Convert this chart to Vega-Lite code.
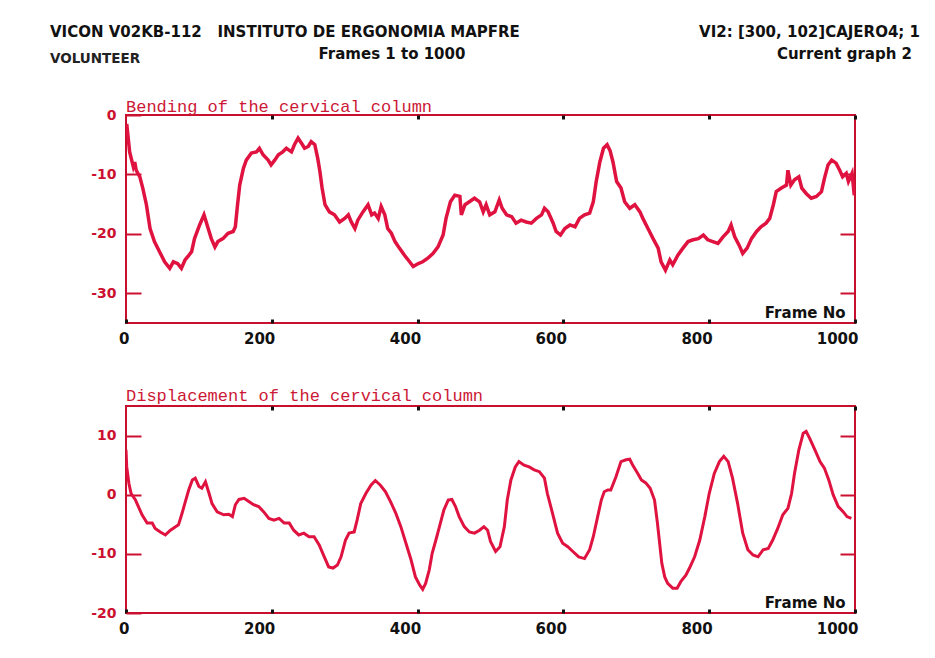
{
  "$schema": "https://vega.github.io/schema/vega-lite/v6.json",
  "background": "white",
  "padding": {"left": 50, "top": 0, "right": 0, "bottom": 0},
  "columns": 1,
  "spacing": 31,
  "config": {
    "view": {"stroke": "#c8102e", "strokeWidth": 2},
    "axis": {"grid": false, "domain": false, "title": null},
    "font": "DejaVu Sans"
  },
  "datasets": {
    "bending": [
      {"frame":1,"value":-1.5},{"frame":5,"value":-6.2},{"frame":10,"value":-8.7},{"frame":12,"value":-7.9},{"frame":14,"value":-9.3},{"frame":19,"value":-10.4},{"frame":23,"value":-12.3},{"frame":28,"value":-15.1},{"frame":33,"value":-19.1},{"frame":39,"value":-21.3},{"frame":46,"value":-23.0},{"frame":53,"value":-24.7},{"frame":60,"value":-25.8},{"frame":65,"value":-24.7},{"frame":71,"value":-25.0},{"frame":76,"value":-25.8},{"frame":81,"value":-24.4},{"frame":85,"value":-23.8},{"frame":90,"value":-23.0},{"frame":94,"value":-20.8},{"frame":101,"value":-18.5},{"frame":107,"value":-16.8},{"frame":112,"value":-18.8},{"frame":117,"value":-20.8},{"frame":122,"value":-22.2},{"frame":126,"value":-21.3},{"frame":133,"value":-20.8},{"frame":140,"value":-19.9},{"frame":147,"value":-19.6},{"frame":150,"value":-18.8},{"frame":153,"value":-15.1},{"frame":156,"value":-11.8},{"frame":161,"value":-9.0},{"frame":165,"value":-7.6},{"frame":172,"value":-6.4},{"frame":179,"value":-6.2},{"frame":183,"value":-5.6},{"frame":188,"value":-6.7},{"frame":195,"value":-7.6},{"frame":199,"value":-8.4},{"frame":204,"value":-7.6},{"frame":209,"value":-6.7},{"frame":215,"value":-6.2},{"frame":220,"value":-5.6},{"frame":227,"value":-6.2},{"frame":231,"value":-5.0},{"frame":236,"value":-3.9},{"frame":241,"value":-4.8},{"frame":245,"value":-5.6},{"frame":250,"value":-5.3},{"frame":254,"value":-4.5},{"frame":259,"value":-5.0},{"frame":263,"value":-7.3},{"frame":266,"value":-9.5},{"frame":269,"value":-12.3},{"frame":273,"value":-15.1},{"frame":279,"value":-16.3},{"frame":286,"value":-16.8},{"frame":293,"value":-18.0},{"frame":300,"value":-17.4},{"frame":305,"value":-16.8},{"frame":309,"value":-18.0},{"frame":314,"value":-19.1},{"frame":318,"value":-17.7},{"frame":325,"value":-16.3},{"frame":332,"value":-15.1},{"frame":337,"value":-16.8},{"frame":341,"value":-16.5},{"frame":346,"value":-17.4},{"frame":350,"value":-15.4},{"frame":355,"value":-16.8},{"frame":359,"value":-19.1},{"frame":364,"value":-19.9},{"frame":369,"value":-21.3},{"frame":375,"value":-22.4},{"frame":382,"value":-23.6},{"frame":389,"value":-24.7},{"frame":394,"value":-25.5},{"frame":401,"value":-25.0},{"frame":407,"value":-24.7},{"frame":414,"value":-24.1},{"frame":421,"value":-23.3},{"frame":428,"value":-22.2},{"frame":435,"value":-20.2},{"frame":439,"value":-17.4},{"frame":445,"value":-14.6},{"frame":451,"value":-13.5},{"frame":458,"value":-13.7},{"frame":460,"value":-16.8},{"frame":465,"value":-15.1},{"frame":471,"value":-14.6},{"frame":478,"value":-14.0},{"frame":485,"value":-14.6},{"frame":490,"value":-16.3},{"frame":494,"value":-15.1},{"frame":499,"value":-16.8},{"frame":506,"value":-16.3},{"frame":512,"value":-14.3},{"frame":516,"value":-15.7},{"frame":522,"value":-16.8},{"frame":529,"value":-17.1},{"frame":535,"value":-18.2},{"frame":542,"value":-17.7},{"frame":549,"value":-18.0},{"frame":556,"value":-18.2},{"frame":563,"value":-17.4},{"frame":570,"value":-16.8},{"frame":574,"value":-15.7},{"frame":579,"value":-16.3},{"frame":586,"value":-18.2},{"frame":590,"value":-19.6},{"frame":596,"value":-20.2},{"frame":602,"value":-19.1},{"frame":609,"value":-18.5},{"frame":616,"value":-18.8},{"frame":622,"value":-17.4},{"frame":629,"value":-16.8},{"frame":636,"value":-16.5},{"frame":641,"value":-14.6},{"frame":645,"value":-11.2},{"frame":650,"value":-7.9},{"frame":655,"value":-5.6},{"frame":660,"value":-5.0},{"frame":664,"value":-6.0},{"frame":668,"value":-7.9},{"frame":673,"value":-11.2},{"frame":679,"value":-12.3},{"frame":684,"value":-14.6},{"frame":691,"value":-15.7},{"frame":698,"value":-15.1},{"frame":705,"value":-16.3},{"frame":709,"value":-17.4},{"frame":716,"value":-19.1},{"frame":723,"value":-20.8},{"frame":730,"value":-22.4},{"frame":734,"value":-24.7},{"frame":740,"value":-26.1},{"frame":746,"value":-24.4},{"frame":750,"value":-25.2},{"frame":757,"value":-23.6},{"frame":764,"value":-22.4},{"frame":771,"value":-21.3},{"frame":778,"value":-21.0},{"frame":785,"value":-20.8},{"frame":792,"value":-20.2},{"frame":798,"value":-21.0},{"frame":805,"value":-21.3},{"frame":812,"value":-21.6},{"frame":819,"value":-20.5},{"frame":826,"value":-19.6},{"frame":830,"value":-18.5},{"frame":835,"value":-20.5},{"frame":841,"value":-21.9},{"frame":846,"value":-23.3},{"frame":852,"value":-22.4},{"frame":858,"value":-20.8},{"frame":865,"value":-19.6},{"frame":871,"value":-18.8},{"frame":878,"value":-18.2},{"frame":883,"value":-17.4},{"frame":888,"value":-15.1},{"frame":892,"value":-12.9},{"frame":899,"value":-12.3},{"frame":906,"value":-11.8},{"frame":908,"value":-9.3},{"frame":912,"value":-11.8},{"frame":917,"value":-10.9},{"frame":923,"value":-10.4},{"frame":927,"value":-12.3},{"frame":933,"value":-13.2},{"frame":940,"value":-14.0},{"frame":947,"value":-13.7},{"frame":954,"value":-12.9},{"frame":958,"value":-10.7},{"frame":963,"value":-8.4},{"frame":968,"value":-7.6},{"frame":974,"value":-8.1},{"frame":979,"value":-9.3},{"frame":983,"value":-10.4},{"frame":988,"value":-9.8},{"frame":991,"value":-11.2},{"frame":996,"value":-9.8},{"frame":999,"value":-13.5}
    ],
    "displacement": [
      {"frame":0,"value":7.6},{"frame":1,"value":4.7},{"frame":4,"value":1.9},{"frame":7,"value":0.2},{"frame":13,"value":-0.9},{"frame":17,"value":-2.0},{"frame":22,"value":-3.4},{"frame":29,"value":-4.8},{"frame":36,"value":-4.8},{"frame":40,"value":-5.7},{"frame":47,"value":-6.3},{"frame":54,"value":-6.8},{"frame":61,"value":-6.0},{"frame":68,"value":-5.4},{"frame":72,"value":-5.1},{"frame":77,"value":-3.1},{"frame":82,"value":-0.9},{"frame":86,"value":0.8},{"frame":91,"value":2.5},{"frame":95,"value":2.8},{"frame":100,"value":1.4},{"frame":104,"value":1.1},{"frame":109,"value":2.2},{"frame":114,"value":0.2},{"frame":118,"value":-1.5},{"frame":125,"value":-2.9},{"frame":134,"value":-3.4},{"frame":141,"value":-3.3},{"frame":146,"value":-3.7},{"frame":150,"value":-1.7},{"frame":155,"value":-0.8},{"frame":162,"value":-0.6},{"frame":169,"value":-1.2},{"frame":175,"value":-1.7},{"frame":182,"value":-2.0},{"frame":189,"value":-2.9},{"frame":196,"value":-4.0},{"frame":203,"value":-4.3},{"frame":210,"value":-4.0},{"frame":217,"value":-4.8},{"frame":224,"value":-4.8},{"frame":230,"value":-6.0},{"frame":237,"value":-6.8},{"frame":244,"value":-6.5},{"frame":251,"value":-7.1},{"frame":258,"value":-7.1},{"frame":265,"value":-8.5},{"frame":272,"value":-10.5},{"frame":278,"value":-12.2},{"frame":284,"value":-12.4},{"frame":290,"value":-11.9},{"frame":295,"value":-10.5},{"frame":301,"value":-7.7},{"frame":306,"value":-6.5},{"frame":313,"value":-6.3},{"frame":317,"value":-4.3},{"frame":322,"value":-1.5},{"frame":329,"value":0.2},{"frame":336,"value":1.6},{"frame":342,"value":2.4},{"frame":349,"value":1.6},{"frame":356,"value":0.5},{"frame":363,"value":-1.2},{"frame":370,"value":-3.1},{"frame":377,"value":-5.4},{"frame":384,"value":-8.2},{"frame":391,"value":-11.0},{"frame":397,"value":-13.9},{"frame":403,"value":-15.3},{"frame":407,"value":-16.0},{"frame":411,"value":-15.0},{"frame":416,"value":-12.7},{"frame":420,"value":-9.9},{"frame":425,"value":-7.7},{"frame":430,"value":-5.4},{"frame":436,"value":-2.6},{"frame":442,"value":-0.9},{"frame":447,"value":-0.8},{"frame":452,"value":-2.0},{"frame":457,"value":-3.7},{"frame":464,"value":-5.4},{"frame":471,"value":-6.3},{"frame":478,"value":-6.5},{"frame":485,"value":-6.0},{"frame":491,"value":-5.4},{"frame":496,"value":-6.0},{"frame":500,"value":-7.9},{"frame":507,"value":-9.6},{"frame":513,"value":-8.8},{"frame":519,"value":-5.4},{"frame":523,"value":-0.9},{"frame":528,"value":2.5},{"frame":534,"value":4.7},{"frame":539,"value":5.6},{"frame":546,"value":5.0},{"frame":553,"value":4.7},{"frame":560,"value":4.2},{"frame":567,"value":3.9},{"frame":574,"value":2.8},{"frame":578,"value":0.2},{"frame":585,"value":-3.1},{"frame":592,"value":-6.5},{"frame":599,"value":-8.2},{"frame":606,"value":-8.8},{"frame":613,"value":-9.6},{"frame":621,"value":-10.5},{"frame":629,"value":-10.8},{"frame":636,"value":-9.3},{"frame":641,"value":-7.1},{"frame":647,"value":-3.7},{"frame":652,"value":-0.9},{"frame":656,"value":0.5},{"frame":661,"value":0.8},{"frame":665,"value":0.8},{"frame":672,"value":3.0},{"frame":679,"value":5.6},{"frame":686,"value":5.9},{"frame":691,"value":6.0},{"frame":695,"value":5.0},{"frame":702,"value":3.6},{"frame":707,"value":2.5},{"frame":713,"value":2.0},{"frame":719,"value":1.1},{"frame":725,"value":-0.9},{"frame":729,"value":-4.8},{"frame":732,"value":-8.2},{"frame":735,"value":-11.6},{"frame":739,"value":-13.9},{"frame":743,"value":-15.0},{"frame":750,"value":-15.8},{"frame":756,"value":-15.8},{"frame":761,"value":-14.7},{"frame":768,"value":-13.6},{"frame":773,"value":-12.4},{"frame":780,"value":-10.5},{"frame":787,"value":-7.7},{"frame":794,"value":-3.7},{"frame":800,"value":0.2},{"frame":807,"value":3.6},{"frame":814,"value":5.6},{"frame":820,"value":6.5},{"frame":826,"value":5.6},{"frame":832,"value":2.8},{"frame":839,"value":-1.5},{"frame":846,"value":-6.5},{"frame":853,"value":-9.3},{"frame":860,"value":-10.2},{"frame":867,"value":-10.5},{"frame":874,"value":-9.3},{"frame":881,"value":-9.1},{"frame":887,"value":-7.7},{"frame":894,"value":-5.7},{"frame":901,"value":-3.4},{"frame":908,"value":-2.3},{"frame":913,"value":0.2},{"frame":917,"value":3.6},{"frame":923,"value":7.6},{"frame":929,"value":10.4},{"frame":933,"value":10.7},{"frame":938,"value":9.5},{"frame":945,"value":7.6},{"frame":952,"value":5.6},{"frame":958,"value":4.5},{"frame":964,"value":2.5},{"frame":970,"value":0.0},{"frame":977,"value":-2.0},{"frame":984,"value":-2.9},{"frame":989,"value":-3.7},{"frame":995,"value":-4.0}
    ],
    "header": [
      {"label": "VICON V02KB-112\u00a0\u00a0 INSTITUTO DE ERGONOMIA MAPFRE", "col": 0, "line": 1},
      {"label": "VI2: [300, 102]CAJERO4; 1", "col": 2, "line": 1},
      {"label": "VOLUNTEER", "col": 0, "line": 3},
      {"label": "Frames 1 to 1000", "col": 1, "line": 2},
      {"label": "Current graph 2", "col": 3, "line": 2}
    ]
  },
  "concat": [
    {
      "width": 729,
      "height": 66,
      "view": {"stroke": null},
      "data": {"name": "header"},
      "encoding": {
        "x": {"field": "col", "type": "quantitative", "axis": null, "scale": {"domain": [0, 1, 2, 3], "range": [-76, 266, 794, 786]}},
        "y": {"field": "line", "type": "quantitative", "axis": null, "scale": {"domain": [1, 2, 3], "range": [37, 59, 63]}},
        "text": {"field": "label"}
      },
      "layer": [
        {"transform": [{"filter": "datum.col == 0 && datum.line == 1"}], "mark": {"type": "text", "align": "left", "baseline": "alphabetic", "font": "DejaVu Sans", "fontWeight": "bold", "fontSize": 15, "color": "#111"}},
        {"transform": [{"filter": "datum.col == 0 && datum.line == 3"}], "mark": {"type": "text", "align": "left", "baseline": "alphabetic", "font": "DejaVu Sans", "fontWeight": "bold", "fontSize": 13.5, "color": "#222"}},
        {"transform": [{"filter": "datum.col == 1"}], "mark": {"type": "text", "align": "center", "baseline": "alphabetic", "font": "DejaVu Sans", "fontWeight": "bold", "fontSize": 15, "color": "#111"}},
        {"transform": [{"filter": "datum.col >= 2"}], "mark": {"type": "text", "align": "right", "baseline": "alphabetic", "font": "DejaVu Sans", "fontWeight": "bold", "fontSize": 15, "color": "#111"}}
      ]
    },
    {
      "width": 729,
      "height": 208,
      "title": {"text": "Bending of the cervical column", "anchor": "start", "frame": "group", "font": "Liberation Mono", "fontSize": 17, "fontWeight": "normal", "color": "#cc1836", "offset": -8},
      "layer": [
        {
          "data": {"name": "bending"},
          "mark": {"type": "line", "color": "#df1240", "strokeWidth": 3.5, "clip": true},
          "encoding": {
            "x": {"field": "frame", "type": "quantitative", "scale": {"domain": [0, 1000], "nice": false, "zero": false},
                  "axis": {"orient": "bottom", "values": [0, 200, 400, 600, 800, 1000], "labelExpr": "'' + datum.value", "labelAlign": "right", "labelOffset": 3, "labelFont": "DejaVu Sans", "labelFontWeight": "bold", "labelFontSize": 15, "labelColor": "#111", "tickColor": "#111", "tickSize": -4, "tickWidth": 3, "labelPadding": 12, "minExtent": 30}},
            "y": {"field": "value", "type": "quantitative", "scale": {"domain": [-35, 0], "nice": false, "zero": false},
                  "axis": {"orient": "left", "values": [-30, -20, -10, 0], "labelExpr": "'' + datum.value", "labelFont": "DejaVu Sans", "labelFontWeight": "bold", "labelFontSize": 14, "labelColor": "#cc1030", "tickColor": "#cc1030", "tickSize": -15, "tickWidth": 2, "labelPadding": 25, "minExtent": 75, "maxExtent": 75}}
          }
        },
        {
          "data": {"values": [{"frame": 987, "value": -35, "label": "Frame No"}]},
          "mark": {"type": "text", "align": "right", "baseline": "bottom", "dy": -2, "font": "DejaVu Sans", "fontWeight": "bold", "fontSize": 15, "color": "#111"},
          "encoding": {
            "x": {"field": "frame", "type": "quantitative", "axis": {"orient": "top", "values": [200, 400, 600, 800, 1000], "labels": false, "tickColor": "#111", "tickSize": -4, "tickWidth": 3}},
            "y": {"field": "value", "type": "quantitative", "axis": {"orient": "right", "values": [-30, -20, -10], "labels": false, "tickColor": "#cc1030", "tickSize": -15, "tickWidth": 2}},
            "text": {"field": "label"}
          }
        }
      ],
      "resolve": {"axis": {"x": "independent", "y": "independent"}}
    },
    {
      "width": 729,
      "height": 207,
      "title": {"text": "Displacement of the cervical column", "anchor": "start", "frame": "group", "font": "Liberation Mono", "fontSize": 17, "fontWeight": "normal", "color": "#cc1836", "offset": 0},
      "layer": [
        {
          "data": {"name": "displacement"},
          "mark": {"type": "line", "color": "#df1240", "strokeWidth": 3, "clip": true},
          "encoding": {
            "x": {"field": "frame", "type": "quantitative", "scale": {"domain": [0, 1000], "nice": false, "zero": false},
                  "axis": {"orient": "bottom", "values": [0, 200, 400, 600, 800, 1000], "labelExpr": "'' + datum.value", "labelAlign": "right", "labelOffset": 3, "labelFont": "DejaVu Sans", "labelFontWeight": "bold", "labelFontSize": 15, "labelColor": "#111", "tickColor": "#111", "tickSize": -4, "tickWidth": 3, "labelPadding": 12}},
            "y": {"field": "value", "type": "quantitative", "scale": {"domain": [-20, 15], "nice": false, "zero": false},
                  "axis": {"orient": "left", "values": [-20, -10, 0, 10], "labelExpr": "'' + datum.value", "labelFont": "DejaVu Sans", "labelFontWeight": "bold", "labelFontSize": 14, "labelColor": "#cc1030", "tickColor": "#cc1030", "tickSize": -15, "tickWidth": 2, "labelPadding": 25, "minExtent": 75, "maxExtent": 75}}
          }
        },
        {
          "data": {"values": [{"frame": 987, "value": -20, "label": "Frame No"}]},
          "mark": {"type": "text", "align": "right", "baseline": "bottom", "dy": -2, "font": "DejaVu Sans", "fontWeight": "bold", "fontSize": 15, "color": "#111"},
          "encoding": {
            "x": {"field": "frame", "type": "quantitative", "axis": {"orient": "top", "values": [200, 400, 600, 800, 1000], "labels": false, "tickColor": "#111", "tickSize": -4, "tickWidth": 3}},
            "y": {"field": "value", "type": "quantitative", "axis": {"orient": "right", "values": [-10, 0, 10], "labels": false, "tickColor": "#cc1030", "tickSize": -15, "tickWidth": 2}},
            "text": {"field": "label"}
          }
        }
      ],
      "resolve": {"axis": {"x": "independent", "y": "independent"}}
    }
  ]
}
